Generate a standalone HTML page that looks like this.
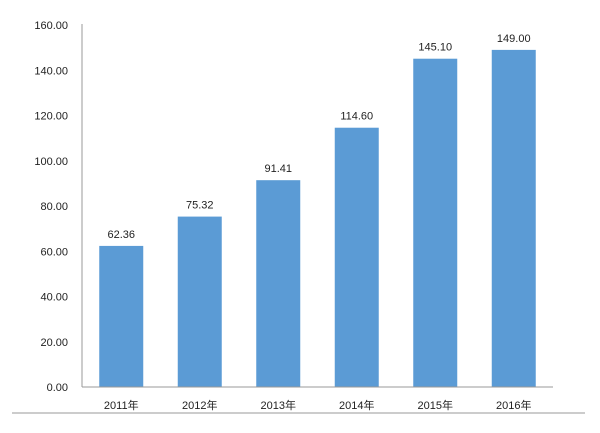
<!DOCTYPE html>
<html><head><meta charset="utf-8"><style>
body{margin:0;background:#fff;width:600px;height:428px;overflow:hidden}
text{font-family:"Liberation Sans","Noto Sans CJK SC",sans-serif;fill:#222;font-size:11px}
</style></head><body>
<svg width="600" height="428">
<g id="g"></g>
</svg>
<script>
const categories=["2011年","2012年","2013年","2014年","2015年","2016年"];
const values=[62.36,75.32,91.41,114.60,145.10,149.00];
const ticks=[0,20,40,60,80,100,120,140,160];
const x0=82,x1=553,y0=387,yTop=25,vmax=160;
const band=(x1-x0)/categories.length,bw=44;
const y=v=>y0-(v/vmax)*(y0-yTop);
const xc=i=>x0+band*(i+0.5);
const g=document.getElementById('g');
const ns='http://www.w3.org/2000/svg';
function mk(t,a,txt){const e=document.createElementNS(ns,t);for(const k in a)e.setAttribute(k,a[k]);if(txt!=null)e.textContent=txt;g.appendChild(e);return e;}
ticks.forEach(t=>{
 const e=mk('text',{x:68,y:y(t)+4,'text-anchor':'end'},t.toFixed(2));
 
 
});
values.forEach((v,i)=>{
 const r=mk('rect',{x:xc(i)-bw/2,y:y(v),width:bw,height:y0-y(v),fill:'#5b9bd5'});
 
 
 const l=mk('text',{x:xc(i),y:y(v)-8,'text-anchor':'middle'},v.toFixed(2));
 
 
 const c=mk('text',{x:xc(i),y:y0+22,'text-anchor':'middle'},categories[i]);
 
 
});
const ya=mk('line',{x1:x0,y1:yTop-1,x2:x0,y2:y0,stroke:'#999','stroke-width':1});


const xa=mk('line',{x1:x0,y1:y0,x2:x1,y2:y0,stroke:'#999','stroke-width':1});


const bl=mk('line',{x1:12,y1:413,x2:585,y2:413,stroke:'#bbb','stroke-width':1.5});


</script>
</body></html>
